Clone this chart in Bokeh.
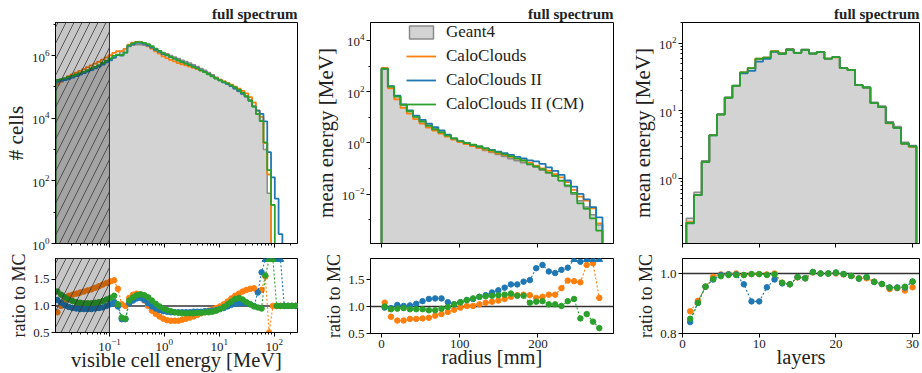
import numpy as np
from bokeh.plotting import figure
from bokeh.layouts import row, column
from bokeh.models import (Range1d, FixedTicker, PrintfTickFormatter, Span, Legend, LegendItem,
                          CustomJSTickFormatter)
from bokeh.embed import file_html
from bokeh.resources import INLINE

FONT = "Liberation Serif"
C_FILL = "#d3d3d3"
C_EDGE = "#8a8a8a"
C_CC = "#ff7f0e"
C_CC2 = "#1f77b4"
C_CM = "#2ca02c"

labels = ["Geant4", "CaloClouds", "CaloClouds II", "CaloClouds II (CM)"]

# ---------------- panel 1: visible cell energy (64 log bins) ----------------
e_lo, e_hi, e_nbins = 0.0104, 266.0, 64
e_cut = 0.1
g4_cells = [1.32e5, 1.48e5, 1.66e5, 1.86e5, 2.09e5, 2.34e5, 2.63e5, 2.95e5, 3.31e5, 3.72e5,
            4.17e5, 4.68e5, 5.37e5, 6.17e5, 7.08e5, 8.32e5, 1.05e6, 1.35e6, 1.66e6, 1.95e6,
            2.14e6, 2.24e6, 2.24e6, 2.14e6, 2.00e6, 1.82e6, 1.62e6, 1.45e6, 1.26e6, 1.15e6,
            1.02e6, 9.1e5, 8.1e5, 7.2e5, 6.5e5, 5.8e5, 5.1e5, 4.5e5, 3.9e5, 3.4e5,
            2.9e5, 2.45e5, 2.05e5, 1.74e5, 1.48e5, 1.26e5, 1.05e5, 8.7e4, 7.2e4, 5.9e4,
            4.8e4, 3.6e4, 2.4e4, 1.4e4, 8.5e3, 1.0e3, 40, 0, 0, 0,
            0, 0, 0, 0]
cc_ratio_cells = [0.88, 1.00, 1.10, 1.19, 1.21, 1.23, 1.25, 1.27, 1.29, 1.31,
                  1.34, 1.37, 1.40, 1.43, 1.46, 1.48, 1.32, 1.03, 1.00, 1.15,
                  1.21, 1.23, 1.20, 1.10, 1.00, 0.91, 0.85, 0.80, 0.76, 0.73,
                  0.72, 0.72, 0.72, 0.74, 0.76, 0.78, 0.80, 0.83, 0.86, 0.88,
                  0.91, 0.93, 0.96, 0.99, 1.03, 1.08, 1.14, 1.19, 1.23, 1.27,
                  1.30, 1.32, 1.33, 1.27, 1.30, 1.55, 0.50, 1.00, 1.00, 1.00,
                  1.00, 1.00, 1.00, 1.00]
cc2_ratio_cells = [1.11, 1.06, 1.01, 0.98, 0.96, 0.95, 0.94, 0.94, 0.94, 0.94,
                   0.95, 0.96, 0.97, 1.00, 1.03, 1.07, 0.99, 0.75, 0.75, 1.05,
                   1.10, 1.14, 1.15, 1.11, 1.05, 0.99, 0.95, 0.92, 0.90, 0.89,
                   0.88, 0.88, 0.88, 0.88, 0.88, 0.88, 0.89, 0.89, 0.89, 0.90,
                   0.90, 0.91, 0.92, 0.94, 0.96, 0.99, 1.02, 1.04, 1.05, 1.05,
                   1.05, 1.03, 1.00, 1.25, 1.63, 2.50, 2.50, 2.50, 2.50, 2.50,
                   1.00, 1.00, 1.00, 1.00]
cm_ratio_cells = [1.27, 1.21, 1.16, 1.12, 1.09, 1.07, 1.06, 1.05, 1.05, 1.05,
                  1.06, 1.07, 1.09, 1.12, 1.15, 1.19, 1.03, 0.78, 0.76, 1.10,
                  1.16, 1.20, 1.22, 1.20, 1.16, 1.10, 1.04, 0.99, 0.95, 0.92,
                  0.90, 0.88, 0.87, 0.86, 0.86, 0.86, 0.86, 0.87, 0.87, 0.88,
                  0.88, 0.89, 0.91, 0.94, 0.98, 1.03, 1.08, 1.13, 1.15, 1.12,
                  1.07, 1.03, 0.99, 0.97, 0.95, 1.57, 2.50, 2.50, 1.00, 1.00,
                  1.00, 1.00, 1.00, 1.00]
# model counts in the tail (bins 55..63), where Geant4 is (nearly) empty
tail_start = 55
cc_tail_cells = [1.6e3, 1.6e2, 0, 0, 0, 0, 0, 0, 0]
cc2_tail_cells = [8.0e3, 8.3e2, 1.3e2, 27, 2, 0, 0, 0, 0]
cm_tail_cells = [1.7e3, 2.2e2, 17, 0, 0, 0, 0, 0, 0]

# ---------------- panel 2: radial profile (35 bins) ----------------
r_lo, r_hi, r_nbins = 0.0, 282.5, 35
g4_radial = [790, 166, 67.6, 31.6, 18.2, 11.0, 7.24, 5.01, 3.63, 2.69,
             1.95, 1.45, 1.10, 0.891, 0.741, 0.617, 0.513, 0.427, 0.355, 0.295,
             0.245, 0.204, 0.170, 0.141, 0.112, 0.0871, 0.0676, 0.0501, 0.0339, 0.0200,
             0.0100, 0.00562, 0.00316, 0.00158, 0.00063]
cc_ratio_radial = [1.07, 0.81, 0.74, 0.74, 0.77, 0.77, 0.78, 0.79, 0.83, 0.86,
                   0.90, 0.94, 0.98, 1.01, 1.01, 1.04, 1.07, 1.09, 1.11, 1.14,
                   1.18, 1.21, 1.22, 1.21, 1.16, 1.18, 1.22, 1.22, 1.34, 1.48,
                   1.47, 1.45, 1.77, 1.80, 1.16]
cc2_ratio_radial = [0.98, 0.97, 1.03, 1.01, 1.02, 1.05, 1.10, 1.14, 1.15, 1.15,
                    1.08, 1.04, 1.08, 1.12, 1.14, 1.18, 1.21, 1.26, 1.30, 1.35,
                    1.41, 1.41, 1.46, 1.49, 1.71, 1.77, 1.65, 1.62, 1.68, 1.72,
                    2.00, 1.83, 2.00, 2.00, 2.00]
cm_ratio_radial = [1.00, 0.95, 0.96, 0.97, 0.95, 0.95, 0.95, 0.93, 0.93, 0.96,
                   0.99, 1.04, 1.08, 1.12, 1.15, 1.18, 1.19, 1.20, 1.21, 1.22,
                   1.24, 1.20, 1.20, 1.07, 1.09, 1.10, 1.04, 1.04, 1.01, 1.10,
                   1.14, 0.78, 0.86, 0.72, 0.60]

# ---------------- panel 3: longitudinal profile (30 layers) ----------------
layers = list(range(1, 31))
g4_layers = [0.26, 0.63, 1.84, 4.43, 8.9, 15.7, 23.6, 37.2, 43.0, 59.0,
             61.5, 76.0, 72.0, 83.0, 73.0, 81.0, 70.0, 74.0, 59.0, 62.0,
             43.0, 40.5, 24.4, 22.4, 13.4, 11.8, 6.9, 5.9, 3.45, 3.08]
cc_ratio_layers = [0.874, 0.909, 0.956, 0.989, 0.997, 0.998, 1.000, 0.995, 0.998, 0.998,
                   0.997, 1.000, 0.969, 0.964, 0.987, 0.984, 1.003, 1.000, 1.000, 1.000,
                   0.997, 0.992, 0.984, 0.984, 0.973, 0.965, 0.948, 0.951, 0.943, 0.954]
cc2_ratio_layers = [0.838, 0.902, 0.956, 0.980, 0.995, 0.997, 0.997, 0.964, 0.907, 0.907,
                    0.954, 0.980, 0.967, 0.964, 0.988, 0.984, 1.005, 1.000, 1.000, 1.003,
                    0.998, 0.992, 0.983, 0.988, 0.972, 0.965, 0.953, 0.953, 0.953, 0.973]
cm_ratio_layers = [0.849, 0.902, 0.956, 0.981, 0.991, 0.995, 0.995, 0.995, 0.998, 0.998,
                   0.995, 0.997, 0.969, 0.964, 0.988, 0.984, 1.005, 1.000, 1.000, 1.003,
                   0.998, 0.992, 0.983, 0.988, 0.972, 0.965, 0.953, 0.953, 0.956, 0.973]

# ---------------- sizes ----------------
MAIN_H, MAIN_TOP, MAIN_BOT = 252, 22, 9
RAT_H, RAT_TOP, RAT_BOT = 121, 6, 40


# ---------------- helpers ----------------
def step_outline(edges, vals, base):
    xs, ys = [edges[0]], [base]
    for i, v in enumerate(vals):
        v = v if v > 0 else base
        xs += [edges[i], edges[i + 1]]
        ys += [v, v]
    xs.append(edges[-1])
    ys.append(base)
    return xs, ys


def style_axes(p, xlabel=None, ylabel=None, show_xlabels=True, ylabel_size="21px"):
    p.grid.visible = False
    p.outline_line_color = "black"
    p.outline_line_width = 1
    p.background_fill_color = "white"
    p.border_fill_color = "white"
    for ax in p.xaxis + p.yaxis:
        ax.axis_line_color = "black"
        ax.major_tick_in = 0
        ax.major_tick_out = 4
        ax.minor_tick_in = 0
        ax.minor_tick_out = 2
        ax.major_tick_line_color = "black"
        ax.minor_tick_line_color = "black"
        ax.major_label_text_font = FONT
        ax.major_label_text_font_size = "13px"
        ax.major_label_text_color = "#222222"
        ax.major_label_standoff = 2
        ax.axis_label_text_font = FONT
        ax.axis_label_text_font_style = "normal"
        ax.axis_label_text_color = "#222222"
        ax.axis_label_standoff = 1
    p.yaxis.axis_label_text_font_size = ylabel_size
    p.xaxis.axis_label_text_font_size = "20.5px"
    p.xaxis.axis_label_standoff = -5
    p.xaxis.major_label_standoff = 2
    if xlabel:
        p.xaxis.axis_label = xlabel
    if ylabel:
        p.yaxis.axis_label = ylabel
    if not show_xlabels:
        p.xaxis.formatter = CustomJSTickFormatter(code="return '';")
        p.xaxis.major_label_text_font_size = "1px"
        p.xaxis.major_label_standoff = 0


def main_panel(width, left, right, x_type, xr, yr, edges, g4, models, ylabel, xticks, xminor, yticks, yminor, base):
    p = figure(width=width, height=MAIN_H, x_axis_type=x_type, y_axis_type="log",
               x_range=Range1d(*xr), y_range=Range1d(*yr),
               output_backend="svg", toolbar_location=None,
               min_border_left=left, min_border_right=right,
               min_border_top=MAIN_TOP, min_border_bottom=MAIN_BOT)
    p.title.text = "full spectrum"
    p.title.align = "right"
    p.title.text_font = FONT
    p.title.text_font_style = "bold"
    p.title.text_font_size = "15px"
    p.title.text_color = "#222222"
    p.title.standoff = 1
    xs, ys = step_outline(edges, g4, base)
    g4r = p.patch(xs, ys, fill_color=C_FILL, line_color=C_EDGE, line_width=1.5)
    rends = [g4r]
    for vals, col in models:
        mx, my = step_outline(edges, vals, base)
        rends.append(p.line(mx, my, line_color=col, line_width=1.8))
    style_axes(p, ylabel=ylabel, show_xlabels=False)
    p.xaxis.ticker = FixedTicker(ticks=xticks, minor_ticks=xminor)
    p.yaxis.ticker = FixedTicker(ticks=yticks, minor_ticks=yminor)
    return p, rends


def ratio_panel(width, left, right, x_type, xr, yr, centers, ratios, xlabel, xticks, xminor, yticks, y_tri):
    p = figure(width=width, height=RAT_H, x_axis_type=x_type,
               x_range=Range1d(*xr), y_range=Range1d(*yr),
               output_backend="svg", toolbar_location=None,
               min_border_left=left, min_border_right=right,
               min_border_top=RAT_TOP, min_border_bottom=RAT_BOT)
    p.add_layout(Span(location=1.0, dimension="width", line_color="#333333", line_width=1.5, level="underlay"))
    for rv, col in ratios:
        disp = [min(v, y_tri) for v in rv]
        p.line(centers, disp, line_color=col, line_width=1.1, line_dash="2 2")
        inx = [c for c, v in zip(centers, rv) if v <= y_tri]
        iny = [v for v in rv if v <= y_tri]
        p.scatter(inx, iny, marker="circle", size=5.5, fill_color=col, line_color=col)
        upx = [c for c, v in zip(centers, rv) if v > y_tri]
        if upx:
            p.scatter(upx, [y_tri] * len(upx), marker="triangle", size=6.5, fill_color=col, line_color=col)
    style_axes(p, xlabel=xlabel, ylabel="ratio to MC", ylabel_size="18px")
    p.xaxis.ticker = FixedTicker(ticks=xticks, minor_ticks=xminor)
    p.yaxis.ticker = FixedTicker(ticks=yticks)
    p.yaxis.formatter = PrintfTickFormatter(format="%.1f")
    return p


def hatch_box(p, x0, x1, y0, y1):
    p.quad(left=[x0], right=[x1], bottom=[y0], top=[y1], fill_color="black", fill_alpha=0.22,
           hatch_pattern="/", hatch_color="#333333", hatch_alpha=0.85, hatch_scale=16, hatch_weight=0.9,
           line_color="#333333", line_width=1)


# column geometry (width, left border, right border)
W1, L1, R1 = 310, 54, 13
W2, L2, R2 = 317, 60, 14
W3, L3, R3 = 295, 52, 3

# ---------------- panel 1 build ----------------
e_edges = np.logspace(np.log10(e_lo), np.log10(e_hi), e_nbins + 1)
e_centers = list(np.sqrt(e_edges[:-1] * e_edges[1:]))


def model_counts(g4, ratio, tail):
    return [g * r for g, r in zip(g4[:tail_start], ratio[:tail_start])] + list(tail)


cc_cells = model_counts(g4_cells, cc_ratio_cells, cc_tail_cells)
cc2_cells = model_counts(g4_cells, cc2_ratio_cells, cc2_tail_cells)
cm_cells = model_counts(g4_cells, cm_ratio_cells, cm_tail_cells)

log_minor = [k * 10.0 ** d for d in range(-2, 3) for k in range(2, 10)]
e_xr = (e_lo, e_hi)
m1_yr = (1.0, 1.15e7)
m1, _ = main_panel(W1, L1, R1, "log", e_xr, m1_yr, e_edges, g4_cells,
                   [(cc_cells, C_CC), (cc2_cells, C_CC2), (cm_cells, C_CM)], "# cells",
                   [0.1, 1, 10, 100], log_minor, [1, 1e2, 1e4, 1e6], [10, 1e3, 1e5, 1e7], 1e-3)
hatch_box(m1, e_lo, e_cut, m1_yr[0], m1_yr[1])

ratio_yr = (0.5, 1.89)
r1 = ratio_panel(W1, L1, R1, "log", e_xr, ratio_yr, e_centers,
                 [(cc_ratio_cells, C_CC), (cc2_ratio_cells, C_CC2), (cm_ratio_cells, C_CM)],
                 "visible cell energy [MeV]", [0.1, 1, 10, 100], log_minor, [0.5, 1.0, 1.5], 1.87)
hatch_box(r1, e_lo, e_cut, ratio_yr[0], ratio_yr[1])

# ---------------- panel 2 build ----------------
r_edges = np.linspace(r_lo, r_hi, r_nbins + 1)
r_centers = list(0.5 * (r_edges[:-1] + r_edges[1:]))
cc_radial = [g * r for g, r in zip(g4_radial, cc_ratio_radial)]
cc2_radial = [g * r for g, r in zip(g4_radial, cc2_ratio_radial)]
cm_radial = [g * r for g, r in zip(g4_radial, cm_ratio_radial)]
r_xr = (-14.1, 296.6)
m2, rends2 = main_panel(W2, L2, R2, "linear", r_xr, (1.2e-4, 5e4), r_edges, g4_radial,
                        [(cc_radial, C_CC), (cc2_radial, C_CC2), (cm_radial, C_CM)], "mean energy [MeV]",
                        [0, 100, 200], [], [1e-2, 1, 1e2, 1e4], [1e-3, 1e-1, 10, 1e3], 1e-8)
legend = Legend(items=[LegendItem(label=l, renderers=[r]) for l, r in zip(labels, rends2)],
                location=(36, 129), border_line_color=None, background_fill_alpha=0,
                label_text_font=FONT, label_text_font_size="17px", label_text_color="#222222",
                glyph_width=30, glyph_height=16, label_height=16, label_standoff=10,
                spacing=4, padding=4, margin=0)
m2.add_layout(legend)
r2 = ratio_panel(W2, L2, R2, "linear", r_xr, ratio_yr, r_centers,
                 [(cc_ratio_radial, C_CC), (cc2_ratio_radial, C_CC2), (cm_ratio_radial, C_CM)],
                 "radius [mm]", [0, 100, 200], [], [0.5, 1.0, 1.5], 1.87)

# ---------------- panel 3 build ----------------
l_edges = [l - 0.5 for l in layers] + [layers[-1] + 0.5]
cc_layers = [g * r for g, r in zip(g4_layers, cc_ratio_layers)]
cc2_layers = [g * r for g, r in zip(g4_layers, cc2_ratio_layers)]
cm_layers = [g * r for g, r in zip(g4_layers, cm_ratio_layers)]
l_xr = (0, 30.9)
minor3 = [k * 10.0 ** d for d in range(-1, 3) for k in range(2, 10)]
m3, _ = main_panel(W3, L3, R3, "linear", l_xr, (0.11, 202), l_edges, g4_layers,
                   [(cc_layers, C_CC), (cc2_layers, C_CC2), (cm_layers, C_CM)], "mean energy [MeV]",
                   [0, 10, 20, 30], [], [1, 10, 100], minor3, 1e-4)
r3 = ratio_panel(W3, L3, R3, "linear", l_xr, (0.8, 1.05), layers,
                 [(cc_ratio_layers, C_CC), (cc2_ratio_layers, C_CC2), (cm_ratio_layers, C_CM)],
                 "layers", [0, 10, 20, 30], [], [0.8, 1.0], 2.0)

layout = row(column(m1, r1), column(m2, r2), column(m3, r3))
open("out.html", "w").write(file_html(layout, INLINE, title="full spectrum"))
